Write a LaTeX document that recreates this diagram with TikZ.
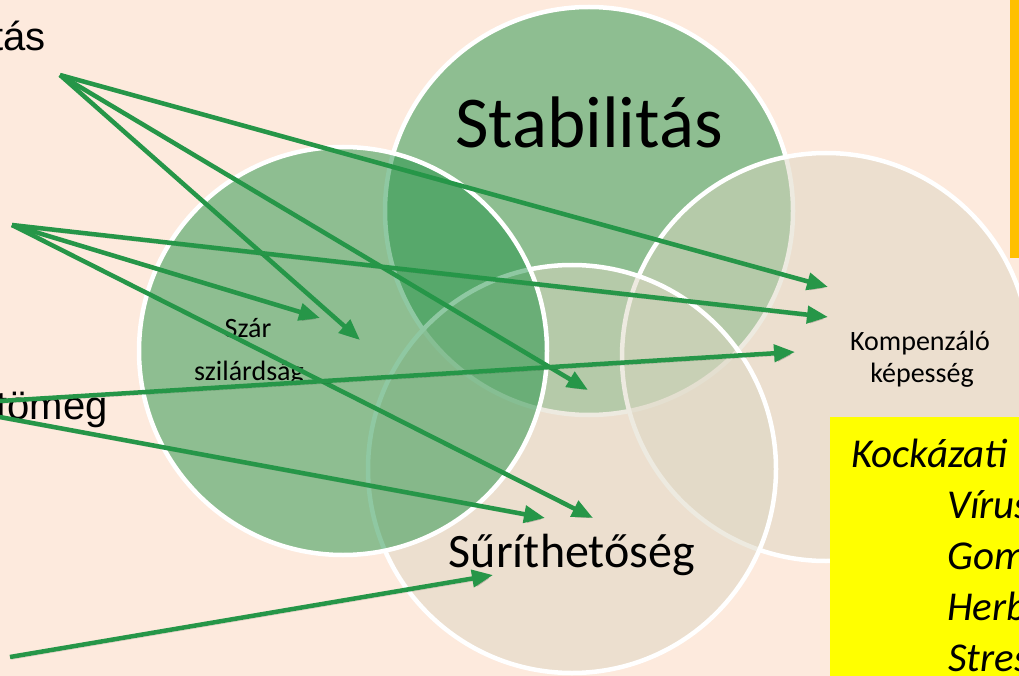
\documentclass[tikz,border=0pt]{standalone}
\usepackage{fontspec}
\setmainfont{Carlito}
\newfontfamily\arialfont{Liberation Sans}
\usetikzlibrary{arrows.meta}
\definecolor{bg}{RGB}{253,234,221}
\definecolor{cgreen}{RGB}{33,147,71}
\definecolor{cbeige}{RGB}{220,214,194}
\definecolor{arrowgreen}{RGB}{38,150,72}
\definecolor{orangebar}{RGB}{255,192,0}
\definecolor{yellowbox}{RGB}{255,255,0}
\begin{document}
\begin{tikzpicture}[x=1pt,y=-1pt,
  venn/.style={draw=white, line width=4.5pt, fill opacity=0.5},
  lbl/.style={inner sep=0pt, anchor=base, text=black},
  risk/.style={inner sep=0pt, anchor=base west, text=black, font=\itshape\fontsize{41}{48}\selectfont},
  link/.style={draw=arrowgreen, line width=4.5pt, -{Triangle[length=21pt,width=17pt]},
    preaction={draw=black, draw opacity=0.15, fill opacity=0.15, transform canvas={shift={(1.5pt,-2.5pt)}}}},
]
\useasboundingbox (0,0) rectangle (1019,676);
\clip (0,0) rectangle (1019,676);
\fill[bg] (0,0) rectangle (1019,676);

% circles
\path[venn, fill=cgreen] (589,211) circle[radius=204];
\path[venn, fill=cbeige] (826,357) circle[radius=204];
\path[venn, fill=cbeige] (572,469) circle[radius=204];
\path[venn, fill=cgreen] (343,351) circle[radius=204];

% circle labels
\node[lbl, font=\fontsize{73}{86}\selectfont] (stab) at (589,148) {Stabilitás};
\node[lbl, font=\fontsize{48}{58}\selectfont] (suri) at (572,567) {Sűríthetőség};
\node[lbl, font=\fontsize{28}{34}\selectfont] (szar1) at (248,337) {Szár};
\node[lbl, font=\fontsize{28}{34}\selectfont] (szar2) at (249,380) {szilárdság};
\node[lbl, font=\fontsize{28}{34}\selectfont] (komp1) at (920,350) {Kompenzáló};
\node[lbl, font=\fontsize{28}{34}\selectfont] (komp2) at (922,382) {képesség};

% left cut-off texts
\node[inner sep=0pt, anchor=base east, font=\arialfont\fontsize{40}{48}\selectfont] (tas) at (46,51) {tás};
\node[inner sep=0pt, anchor=base east, font=\arialfont\fontsize{40}{48}\selectfont] (tomeg) at (108,419) {tömeg};

% orange bar and yellow box
\fill[orangebar] (1010,0) rectangle (1030,258);
\fill[yellowbox] (830,417) rectangle (1030,690);
\node[risk] (k0) at (851,467) {Kockázati};
\node[risk] (k1) at (947,518) {Vírus};
\node[risk] (k2) at (947,569) {Gomba};
\node[risk] (k3) at (947,620) {Herbicid};
\node[risk] (k4) at (948,671) {Stressz};

% arrow ends
\coordinate (a) at (60,75);
\coordinate (b) at (12,225);
\coordinate (c) at (-65,405);
\coordinate (d) at (10,657);
\coordinate (t1) at (828,287);
\coordinate (t2) at (360,340);
\coordinate (t3) at (588,390);
\coordinate (t4) at (828,317);
\coordinate (t5) at (320,318);
\coordinate (t6) at (593,518);
\coordinate (t7) at (795,352);
\coordinate (t8) at (545,518);
\coordinate (t9) at (493,575);

\draw[link] (a) -- (t1);
\draw[link] (a) -- (t2);
\draw[link] (a) -- (t3);
\draw[link] (b) -- (t4);
\draw[link] (b) -- (t5);
\draw[link] (b) -- (t6);
\draw[link] (c) -- (t7);
\draw[link] (c) -- (t8);
\draw[link] (d) -- (t9);
\end{tikzpicture}
\end{document}
